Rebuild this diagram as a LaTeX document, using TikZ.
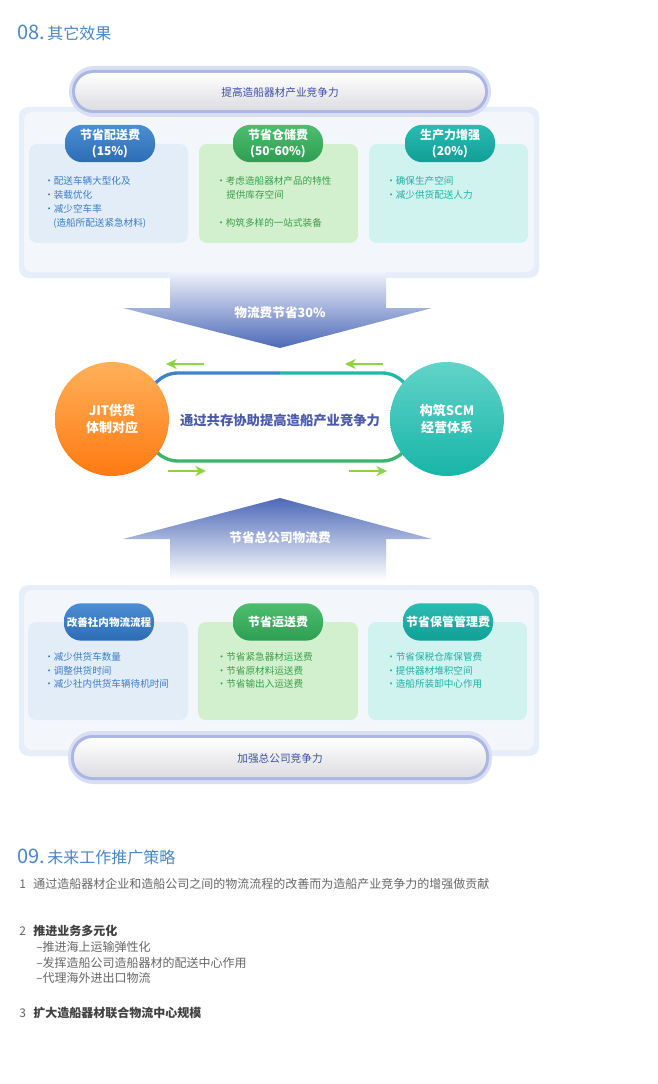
\documentclass[tikz,border=0pt]{standalone}
\usepackage{fontspec}
\setmainfont{Noto Sans CJK SC}
\usetikzlibrary{arrows.meta}

\definecolor{titleblue}{HTML}{4A86C5}
\definecolor{pilltxt}{HTML}{3C4F9E}
\definecolor{pillglow}{HTML}{AAB6E4}
\definecolor{pillgrey}{HTML}{DDDDE2}
\definecolor{panelbg}{HTML}{E6EEF9}
\definecolor{panelin}{HTML}{F3F7FC}
\definecolor{boxblue}{HTML}{E2EDF8}
\definecolor{boxgreen}{HTML}{D3F0CE}
\definecolor{boxteal}{HTML}{D0F3EF}
\definecolor{txtblue}{HTML}{3B7CC6}
\definecolor{txtgreen}{HTML}{3A9E4A}
\definecolor{txtteal}{HTML}{1FAFA4}
\definecolor{tabbluetop}{HTML}{4B8ED3}
\definecolor{tabbluebot}{HTML}{2D6CB5}
\definecolor{tabgreentop}{HTML}{4DBE6E}
\definecolor{tabgreenbot}{HTML}{2E9F52}
\definecolor{tabtealtop}{HTML}{2ABBB2}
\definecolor{tabtealbot}{HTML}{119F96}
\definecolor{arrowdark}{HTML}{4D69B8}
\definecolor{arrowmid}{HTML}{7D92D2}
\definecolor{arrowlight}{HTML}{EEF2FA}
\definecolor{orangetop}{HTML}{FFB05A}
\definecolor{orangebot}{HTML}{FF7A12}
\definecolor{tealtop}{HTML}{62D3C8}
\definecolor{tealbot}{HTML}{17B5A8}
\definecolor{loopblue}{HTML}{3D85C8}
\definecolor{loopteal}{HTML}{25B6AA}
\definecolor{loopgreen}{HTML}{3EB36A}
\definecolor{arrowlime}{HTML}{8CD442}
\definecolor{midtxt}{HTML}{4A5BAD}
\definecolor{greytxt}{HTML}{666666}
\definecolor{darktxt}{HTML}{404040}

\tikzset{
  tabbox/.style={rectangle, rounded corners=13pt, minimum width=67.5pt,
    minimum height=28pt, inner sep=0pt, text=white, align=center,
    font=\bfseries\fontsize{9}{12}\selectfont},
  itemtxt/.style={anchor=west, inner sep=0pt, font=\fontsize{7.2}{9}\selectfont},
  pilltext/.style={inner sep=0pt, text=pilltxt, font=\fontsize{8}{10}\selectfont},
  arrowtxt/.style={inner sep=0pt, text=white, font=\bfseries\fontsize{9.5}{11}\selectfont},
  ball/.style={circle, minimum size=85.5pt, inner sep=0pt, text=white, align=center,
    font=\bfseries\fontsize{9.75}{13}\selectfont},
  sectitle/.style={anchor=west, inner sep=0pt, text=titleblue},
  bodytxt/.style={anchor=west, inner sep=0pt, text=greytxt, font=\fontsize{9}{11}\selectfont},
  headtxt/.style={anchor=west, inner sep=0pt, text=darktxt, font=\bfseries\fontsize{9}{11}\selectfont},
  lime/.style={arrowlime, line width=1.9pt, -{Stealth[length=8pt,width=7.5pt,inset=2.5pt]}}
}

\begin{document}
\begin{tikzpicture}[x=0.75pt,y=-0.75pt]
  \useasboundingbox (0,0) rectangle (657,1084);
  \fill[white] (0,0) rectangle (657,1084);

  % 08
  \node[sectitle] (sec8) at (17,33)
    {{\fontsize{15}{16}\selectfont 08.}\,{\fontsize{12}{14}\selectfont 其它效果}};

  % upper panel
  \fill[panelbg, rounded corners=7pt] (19,107) rectangle (539,278);
  \fill[panelin, rounded corners=6pt] (24,112) rectangle (534,272);
  \fill[boxblue, rounded corners=6pt] (29,144) rectangle (188,243);
  \fill[boxgreen, rounded corners=6pt] (199,144) rectangle (358,243);
  \fill[boxteal, rounded corners=6pt] (369,144) rectangle (528,243);

  \fill[pillglow!45, rounded corners=19pt] (69,66) rectangle (491,117);
  \fill[pillglow, rounded corners=16pt] (72,70) rectangle (488,113);
  \shade[top color=white, middle color=white!70!pillgrey, bottom color=pillgrey,
    rounded corners=14pt] (75,73) rectangle (485,110);
  \node[pilltext] (goal) at (280,92) {提高造船器材产业竞争力};

  \node[tabbox, top color=tabbluetop, bottom color=tabbluebot] (tab1) at (110,143.5)
    {节省配送费\\(15\%)};
  \node[tabbox, top color=tabgreentop, bottom color=tabgreenbot] (tab2) at (278,143.5)
    {节省仓储费\\(50\raisebox{2.5pt}{\fontsize{6}{6}\selectfont\textasciitilde}60\%)};
  \node[tabbox, top color=tabtealtop, bottom color=tabtealbot] (tab3) at (450,143.5)
    {生产力增强\\(20\%)};

  \node[itemtxt, text=txtblue] (d1) at (44,181) {·配送车辆大型化及};
  \node[itemtxt, text=txtblue] (d2) at (44,195) {·装载优化};
  \node[itemtxt, text=txtblue] (d3) at (44,209) {·减少空车率};
  \node[itemtxt, text=txtblue] (d4) at (53,223) {(造船所配送紧急材料)};
  \node[itemtxt, text=txtgreen] (s1) at (216,181) {·考虑造船器材产品的特性};
  \node[itemtxt, text=txtgreen] (s2) at (226,195) {提供库存空间};
  \node[itemtxt, text=txtgreen] (s3) at (216,223) {·构筑多样的一站式装备};
  \node[itemtxt, text=txtteal] (p1) at (386,181) {·确保生产空间};
  \node[itemtxt, text=txtteal] (p2) at (386,195) {·减少供货配送人力};

  % down arrow
  \shade[top color=arrowlight, middle color=arrowmid, bottom color=arrowdark]
    (170,272) -- (386,272) -- (386,308) -- (432,308) -- (280,348)
    -- (123,308) -- (170,308) -- cycle;
  \node[arrowtxt] (save) at (280,313) {物流费节省30\%};

  % loop
  \draw[loopblue, line width=2.5pt, rounded corners=22.5pt]
    (280,373) -- (148,373) -- (148,417);
  \draw[loopteal, line width=2.5pt, rounded corners=22.5pt]
    (280,373) -- (412,373) -- (412,417);
  \draw[loopgreen, line width=2.5pt, rounded corners=22.5pt]
    (148,417) -- (148,461) -- (412,461) -- (412,417);

  \node[ball, top color=orangetop, bottom color=orangebot] (jit) at (112,419)
    {JIT供货\\体制对应};
  \node[ball, top color=tealtop, bottom color=tealbot] (scm) at (447,419)
    {构筑SCM\\经营体系};
  \node[inner sep=0pt, text=midtxt, font=\bfseries\fontsize{10}{12}\selectfont]
    (coop) at (280,420) {通过共存协助提高造船产业竞争力};

  \draw[lime] (204,364) -- (166,364);
  \draw[lime] (383,364) -- (345,364);
  \draw[lime] (168,471) -- (206,471);
  \draw[lime] (349,471) -- (387,471);

  % up arrow
  \shade[top color=arrowdark, middle color=arrowmid, bottom color=white]
    (280,498) -- (432,539) -- (386,539) -- (386,580) -- (170,580)
    -- (170,539) -- (123,539) -- cycle;
  \node[arrowtxt] (hq) at (280,538) {节省总公司物流费};

  % lower panel
  \fill[panelbg, rounded corners=7pt] (19,585) rectangle (539,756);
  \fill[panelin, rounded corners=6pt] (24,590) rectangle (534,750);
  \fill[boxblue, rounded corners=6pt] (28,622) rectangle (188,720);
  \fill[boxgreen, rounded corners=6pt] (198,622) rectangle (358,720);
  \fill[boxteal, rounded corners=6pt] (368,622) rectangle (527,720);

  \node[tabbox, top color=tabbluetop, bottom color=tabbluebot,
    font=\bfseries\fontsize{7.9}{10}\selectfont] (tab4) at (109,622) {改善社内物流流程};
  \node[tabbox, top color=tabgreentop, bottom color=tabgreenbot] (tab5) at (278,622)
    {节省运送费};
  \node[tabbox, top color=tabtealtop, bottom color=tabtealbot] (tab6) at (448,622)
    {节省保管管理费};

  \node[itemtxt, text=txtblue] (f1) at (44,657) {·减少供货车数量};
  \node[itemtxt, text=txtblue] (f2) at (44,671) {·调整供货时间};
  \node[itemtxt, text=txtblue] (f3) at (44,684) {·减少社内供货车辆待机时间};
  \node[itemtxt, text=txtgreen] (t1) at (216.5,657) {·节省紧急器材运送费};
  \node[itemtxt, text=txtgreen] (t2) at (216.5,671) {·节省原材料运送费};
  \node[itemtxt, text=txtgreen] (t3) at (216.5,684) {·节省输出入运送费};
  \node[itemtxt, text=txtteal] (k1) at (386,657) {·节省保税仓库保管费};
  \node[itemtxt, text=txtteal] (k2) at (386,671) {·提供器材堆积空间};
  \node[itemtxt, text=txtteal] (k3) at (386,684) {·造船所装卸中心作用};

  \fill[pillglow!45, rounded corners=19pt] (68,731) rectangle (492,784);
  \fill[pillglow, rounded corners=16pt] (71,735) rectangle (489,780);
  \shade[top color=white, middle color=white!70!pillgrey, bottom color=pillgrey,
    rounded corners=14pt] (74,738) rectangle (486,777);
  \node[pilltext] (hqgoal) at (280,758) {加强总公司竞争力};

  % 09
  \node[sectitle] (sec9) at (17,857)
    {{\fontsize{15}{16}\selectfont 09.}\,{\fontsize{12}{14}\selectfont 未来工作推广策略}};
  \node[bodytxt] (n1) at (19,884) {1};
  \node[bodytxt] (l1) at (33,884)
    {通过造船器材企业和造船公司之间的物流流程的改善而为造船产业竞争力的增强做贡献};
  \node[bodytxt] (n2) at (19,931) {2};
  \node[headtxt] (l2) at (33,931) {推进业务多元化};
  \node[bodytxt] (l2a) at (36,947) {--推进海上运输弹性化};
  \node[bodytxt] (l2b) at (36,963) {--发挥造船公司造船器材的配送中心作用};
  \node[bodytxt] (l2c) at (36,978) {--代理海外进出口物流};
  \node[bodytxt] (n3) at (19,1013) {3};
  \node[headtxt] (l3) at (33,1013) {扩大造船器材联合物流中心规模};
\end{tikzpicture}
\end{document}
